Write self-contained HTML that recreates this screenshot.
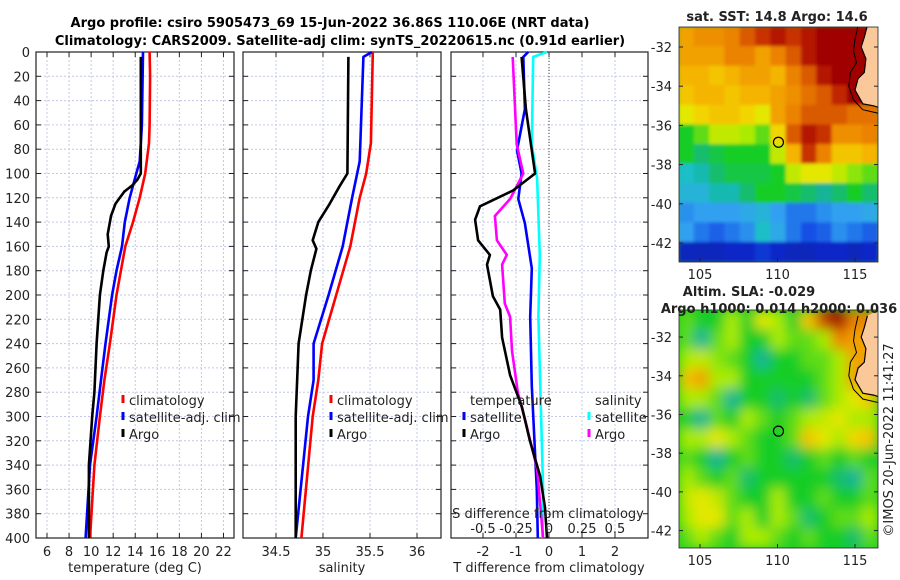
<!DOCTYPE html>
<html><head><meta charset="utf-8"><style>
body{margin:0;background:#fff}
svg{display:block;font-family:"DejaVu Sans","Liberation Sans",sans-serif}
</style></head><body>
<svg id="fig" width="900" height="580" viewBox="0 0 900 580">
<defs>
<filter id="blurS" x="0" y="0" width="1" height="1"><feGaussianBlur stdDeviation="1.5"/></filter>
<filter id="blurL" x="0" y="0" width="1" height="1"><feGaussianBlur stdDeviation="6"/></filter>
<clipPath id="clipTop"><rect x="679" y="27" width="199" height="235"/></clipPath>
<clipPath id="clipBot"><rect x="679" y="310" width="199" height="238"/></clipPath>
</defs>
<rect width="900" height="580" fill="#fff"/>
<text x="330" y="27" text-anchor="middle" font-weight="bold" font-size="13">Argo profile: csiro 5905473_69 15-Jun-2022 36.86S 110.06E (NRT data)</text>
<text x="340" y="45" text-anchor="middle" font-weight="bold" font-size="13">Climatology: CARS2009. Satellite-adj clim: synTS_20220615.nc (0.91d earlier)</text>
<g id="plots"></g>
</svg>
<script>
// ---------- profile data ----------
const tClimDepth=[0,20,60,75,100,120,140,160,180,200,240,270,300,340,400];
const tClim=[15.3,15.35,15.3,15.25,14.9,14.4,13.8,13.1,12.7,12.3,11.7,11.2,10.8,10.3,9.9];
const tSatDepth=[0,60,90,100,120,140,160,180,200,240,270,300,340,400];
const tSat=[14.7,14.6,14.4,14.1,13.5,13.05,12.8,12.3,11.9,11.3,10.9,10.5,9.9,9.5];
const tArgoDepth=[4,60,100,105,110,115,120,125,135,150,160,165,180,200,240,280,300,340,400];
const tArgo=[14.5,14.5,14.5,14.2,13.7,13.0,12.6,12.2,11.8,11.5,11.6,11.4,11.1,10.8,10.5,10.3,10.1,9.8,9.8];
const sClimDepth=[0,75,100,120,160,200,240,270,300,400];
const sClim=[35.53,35.51,35.46,35.39,35.29,35.14,34.99,34.95,34.89,34.77];
const sSatDepth=[0,4,90,120,160,200,240,270,300,400];
const sSat=[35.52,35.43,35.39,35.31,35.21,35.06,34.9,34.9,34.84,34.71];
const sArgoDepth=[4,100,110,125,140,155,162,180,200,240,300,400];
const sArgo=[35.27,35.26,35.18,35.07,34.95,34.89,34.93,34.87,34.82,34.74,34.71,34.71];
const dTArgoDepth=[4,47,100,114,127,138,155,167,175,201,212,235,266,292,320,349,375,400];
const dTArgo=[-0.83,-0.7,-0.42,-1.09,-2.09,-2.24,-2.15,-1.79,-1.88,-1.7,-1.48,-1.42,-1.18,-0.82,-0.58,-0.27,-0.12,-0.06];
const dTSatDepth=[0,4,47,81,100,121,141,178,218,275,360,400];
const dTSat=[-0.63,-0.78,-0.73,-0.97,-0.83,-0.93,-0.73,-0.52,-0.57,-0.52,-0.37,-0.34];
const dSArgoDepth=[4,76,100,121,135,155,167,175,207,218,246,281,303,343,400];
const dSArgo=[-0.275,-0.245,-0.195,-0.295,-0.41,-0.395,-0.32,-0.355,-0.335,-0.295,-0.28,-0.235,-0.18,-0.09,-0.045];
const dSSatDepth=[0,4,76,104,167,218,360,400];
const dSSat=[-0.015,-0.12,-0.13,-0.09,-0.07,-0.08,-0.045,-0.05];
const depthTicks=[0,20,40,60,80,100,120,140,160,180,200,220,240,260,280,300,320,340,360,380,400];
const tTicks=[6,8,10,12,14,16,18,20,22];
const sTicks=[34.5,35,35.5,36];
const dTTicks=[-2,-1,0,1,2];
const dSTicks=[-0.5,-0.25,0,0.25,0.5];
const dSTickLabels=["-0.5","-0.25","0","0.25","0.5"];
// ---------- map data ----------
const sstGrid=[
[.75,.78,.78,.8,.85,.9,.95,.9,.95,1,1,1,1],
[.75,.75,.75,.8,.8,.75,.8,.85,.95,1,1,1,1],
[.72,.72,.7,.72,.75,.75,.72,.8,.85,.95,1,1,1],
[.7,.72,.72,.7,.72,.72,.75,.78,.82,.85,.92,1,1],
[.65,.68,.7,.7,.68,.65,.75,.8,.85,.85,.85,.82,.82],
[.5,.55,.62,.62,.6,.55,.68,.85,.95,.9,.78,.78,.8],
[.5,.45,.48,.5,.5,.5,.62,.72,.9,.8,.7,.7,.72],
[.38,.4,.45,.48,.48,.48,.5,.62,.65,.65,.62,.58,.55],
[.35,.35,.4,.4,.45,.5,.5,.48,.45,.42,.45,.5,.45],
[.28,.3,.3,.3,.32,.35,.3,.25,.25,.28,.3,.3,.32],
[.3,.25,.22,.25,.28,.38,.32,.25,.2,.22,.28,.25,.22],
[.1,.1,.1,.12,.12,.15,.12,.1,.1,.12,.12,.1,.12]];
const slaGrid=[
[.55,.5,.5,.6,.5,.65,.6,.5,.7,.9,1,.8,.8],
[.55,.42,.55,.6,.5,.5,.6,.55,.55,.6,.8,.75,.75],
[.6,.62,.58,.55,.5,.42,.5,.5,.55,.55,.6,.75,.75],
[.7,.75,.6,.6,.5,.5,.5,.5,.5,.55,.6,.75,.75],
[.6,.6,.55,.42,.5,.5,.45,.5,.45,.55,.6,.65,.7],
[.5,.42,.55,.5,.6,.55,.5,.55,.6,.62,.65,.6,.6],
[.6,.6,.65,.6,.55,.5,.5,.55,.7,.65,.6,.68,.7],
[.55,.5,.42,.5,.55,.5,.5,.45,.5,.55,.5,.55,.5],
[.6,.55,.5,.55,.45,.5,.5,.5,.5,.5,.45,.42,.55],
[.62,.65,.62,.55,.5,.5,.6,.5,.5,.55,.5,.5,.55],
[.6,.65,.65,.55,.6,.5,.6,.55,.45,.5,.55,.55,.6],
[.55,.6,.55,.5,.6,.6,.55,.5,.55,.5,.5,.45,.55]];
const lonTicks=[105,110,115];
const latTicks=[-32,-34,-36,-38,-40,-42];
const argoLon=110.06, argoLat=-36.86;

const NS="http://www.w3.org/2000/svg";
const root=document.getElementById('plots');
function mk(tag,attrs,parent){const e=document.createElementNS(NS,tag);for(const k in attrs)e.setAttribute(k,attrs[k]);(parent||root).appendChild(e);return e;}
function txt(x,y,s,size,anchor,parent){const t=mk('text',{x:x,y:y,'font-size':size||13,'text-anchor':anchor||'middle',fill:'#222'},parent);t.textContent=s;return t;}

const yD=d=>52+d*1.215;
const xT=v=>47+(v-6)*11.03;
const xS=v=>323+(v-35)*94;
const xDT=v=>549+v*33;
const xDS=v=>549+v*132;
const panels=[{l:36,r:234},{l:243,r:441},{l:451,r:648}];

function gridAndFrame(p,xs,name){
  const g=mk('g',{});
  
  
  depthTicks.forEach(d=>{mk('line',{x1:p.l,x2:p.r,y1:yD(d),y2:yD(d),stroke:'#c3c8e6','stroke-dasharray':'2,2','stroke-width':1},g);
    mk('line',{x1:p.l,x2:p.l+5,y1:yD(d),y2:yD(d),stroke:'#222'},g);
    mk('line',{x1:p.r-5,x2:p.r,y1:yD(d),y2:yD(d),stroke:'#222'},g);});
  xs.forEach(x=>{mk('line',{x1:x,x2:x,y1:yD(0),y2:yD(400),stroke:'#c3c8e6','stroke-dasharray':'2,2'},g);
    mk('line',{x1:x,x2:x,y1:yD(400),y2:yD(400)-5,stroke:'#222'},g);
    mk('line',{x1:x,x2:x,y1:yD(0),y2:yD(0)+5,stroke:'#222'},g);});
  mk('rect',{x:p.l,y:yD(0),width:p.r-p.l,height:yD(400)-yD(0),fill:'none',stroke:'#222','stroke-width':1.2},g);
  return g;
}
function line(depths,vals,xf,color,name){
  const pts=depths.map((d,i)=>xf(vals[i]).toFixed(1)+','+yD(d).toFixed(1)).join(' ');
  const e=mk('polyline',{points:pts,fill:'none',stroke:color,'stroke-width':2.6,'stroke-linejoin':'round'});
  
  
}
// panel 1
gridAndFrame(panels[0],tTicks.map(xT),'temperature-axes');
depthTicks.forEach(d=>txt(30,yD(d)+5,String(d),13,'end'));
tTicks.forEach(v=>txt(xT(v),556,String(v),13));
txt(135,572,'temperature (deg C)',13);
line(tClimDepth,tClim,xT,'#f00','temp-climatology-line');
line(tSatDepth,tSat,xT,'#00f','temp-satellite-line');
line(tArgoDepth,tArgo,xT,'#000','temp-argo-line');
// panel 2
gridAndFrame(panels[1],sTicks.map(xS),'salinity-axes');
sTicks.forEach(v=>txt(xS(v),556,String(v),13));
txt(342,572,'salinity',13);
line(sClimDepth,sClim,xS,'#f00','sal-climatology-line');
line(sSatDepth,sSat,xS,'#00f','sal-satellite-line');
line(sArgoDepth,sArgo,xS,'#000','sal-argo-line');
// panel 3
gridAndFrame(panels[2],dTTicks.map(xDT),'difference-axes');
mk('line',{x1:xDT(0),x2:xDT(0),y1:yD(0),y2:yD(400),stroke:'#444','stroke-dasharray':'1,2'});
dTTicks.forEach(v=>txt(xDT(v),556,String(v),13));
txt(549,572,'T difference from climatology',13);
line(dTSatDepth,dTSat,xDT,'#00f','dT-satellite-line');
line(dSSatDepth,dSSat,xDS,'#0ff','dS-satellite-line');
line(dSArgoDepth,dSArgo,xDS,'#f0f','dS-argo-line');
line(dTArgoDepth,dTArgo,xDT,'#000','dT-argo-line');
txt(548,518,'S difference from climatology',13);
dSTicks.forEach((v,i)=>txt(xDS(v),533,dSTickLabels[i],13));

// legends
function legend(x,y,items,name){
  const g=mk('g',{});
  
  
  items.forEach((it,i)=>{
    mk('line',{x1:x,x2:x,y1:y+i*17-10,y2:y+i*17-2,stroke:it[1],'stroke-width':3},g);
    txt(x+6,y+i*17,it[0],13,'start',g);
  });
}
legend(123,405,[['climatology','#f00'],['satellite-adj. clim','#00f'],['Argo','#000']],'temperature-legend');
legend(331,405,[['climatology','#f00'],['satellite-adj. clim','#00f'],['Argo','#000']],'salinity-legend');
txt(470,405,'temperature',13,'start');
legend(464,422,[['satellite','#00f'],['Argo','#000']],'dT-legend');
txt(595,405,'salinity',13,'start');
legend(589,422,[['satellite','#0ff'],['Argo','#f0f']],'dS-legend');

// ---------- maps ----------
const cmapStops=[[0,[0,20,130]],[0.12,[10,40,200]],[0.2,[20,80,230]],[0.3,[50,160,240]],[0.38,[30,190,200]],[0.42,[20,180,150]],[0.5,[20,205,40]],[0.6,[170,235,0]],[0.66,[240,230,0]],[0.72,[245,180,0]],[0.8,[235,130,0]],[0.9,[200,50,0]],[1,[160,0,0]]];
function cmap(v){v=Math.max(0,Math.min(1,v));
  for(let i=1;i<cmapStops.length;i++){const a=cmapStops[i-1],b=cmapStops[i];
    if(v<=b[0]){const t=(v-a[0])/(b[0]-a[0]);return 'rgb('+a[1].map((c,k)=>Math.round(c+(b[1][k]-c)*t)).join(',')+')';}}
  return 'rgb(160,0,0)';}
function map(grid,top,bottom,latTop,latBot,filt,clip,name){
  const L=679,R=878;
  const lonX=lo=>700+(lo-105)*15.5;
  const latY=la=>top+(latTop-la)/(latTop-latBot)*(bottom-top);
  const outer=mk('g',{'clip-path':'url(#'+clip+')'});
  
  
  mk('rect',{x:L,y:top,width:R-L,height:bottom-top,fill:cmap(.5)},outer);
  const g=mk('g',{filter:'url(#'+filt+')'},outer);
  const rows=grid.length,cols=grid[0].length,cw=(R-L)/cols,ch=(bottom-top)/rows;
  grid.forEach((row,i)=>row.forEach((v,j)=>{
    const c=mk('rect',{x:L+j*cw-0.5,y:top+i*ch-0.5,width:cw+1,height:ch+1,fill:cmap(v)},g);
    
    
  }));
  const coast=[[115.8,-30.9],[115.6,-31.5],[115.4,-32.0],[115.7,-32.6],[115.6,-33.3],[115.2,-33.6],[115.0,-34.2],[115.5,-34.9],[116.2,-35.0],[116.6,-35.1]];
  const pts=coast.map(p=>lonX(p[0]).toFixed(1)+','+latY(p[1]).toFixed(1));
  mk('polygon',{points:pts.join(' ')+' '+R+','+latY(-35.1)+' '+R+','+top,fill:'#fbc89a'},outer);
  mk('polyline',{points:pts.join(' '),fill:'none',stroke:'#000','stroke-width':1.2},outer);
  const shelf=[[115.2,-30.9],[115.0,-31.6],[114.9,-32.2],[115.1,-32.8],[114.7,-33.3],[114.6,-34.0],[114.9,-34.7],[115.5,-35.2],[116.6,-35.4]];
  mk('polyline',{points:shelf.map(p=>lonX(p[0]).toFixed(1)+','+latY(p[1]).toFixed(1)).join(' '),fill:'none',stroke:'#000','stroke-width':1},outer);
  const m=mk('circle',{cx:lonX(argoLon),cy:latY(argoLat),r:5,fill:'none',stroke:'#000','stroke-width':1.2});
  
  
  mk('rect',{x:L,y:top,width:R-L,height:bottom-top,fill:'none',stroke:'#222','stroke-width':0.8});
  latTicks.forEach(la=>{const y=latY(la);mk('line',{x1:L,x2:L+4,y1:y,y2:y,stroke:'#222'});mk('line',{x1:R-4,x2:R,y1:y,y2:y,stroke:'#222'});txt(L-7,y+5,String(la),13,'end');});
  lonTicks.forEach(lo=>{const x=lonX(lo);mk('line',{x1:x,x2:x,y1:bottom,y2:bottom-4,stroke:'#222'});txt(x,bottom+17,String(lo),13);});
}
map(sstGrid,27,262,-30.98,-42.97,'blurS','clipTop','sst-map');
map(slaGrid,310,548,-30.6,-42.9,'blurL','clipBot','sla-map');
const t1=txt(777,21,'sat. SST: 14.8 Argo: 14.6',13);t1.setAttribute('font-weight','bold');
const t2=txt(749,296,'Altim. SLA: -0.029',13);t2.setAttribute('font-weight','bold');
const t3=txt(779,313,'Argo h1000: 0.014 h2000: 0.036',13);t3.setAttribute('font-weight','bold');
const v=txt(0,0,'©IMOS 20-Jun-2022 11:41:27',13);
v.setAttribute('transform','translate(893,440) rotate(-90)');


</script>
</body></html>
